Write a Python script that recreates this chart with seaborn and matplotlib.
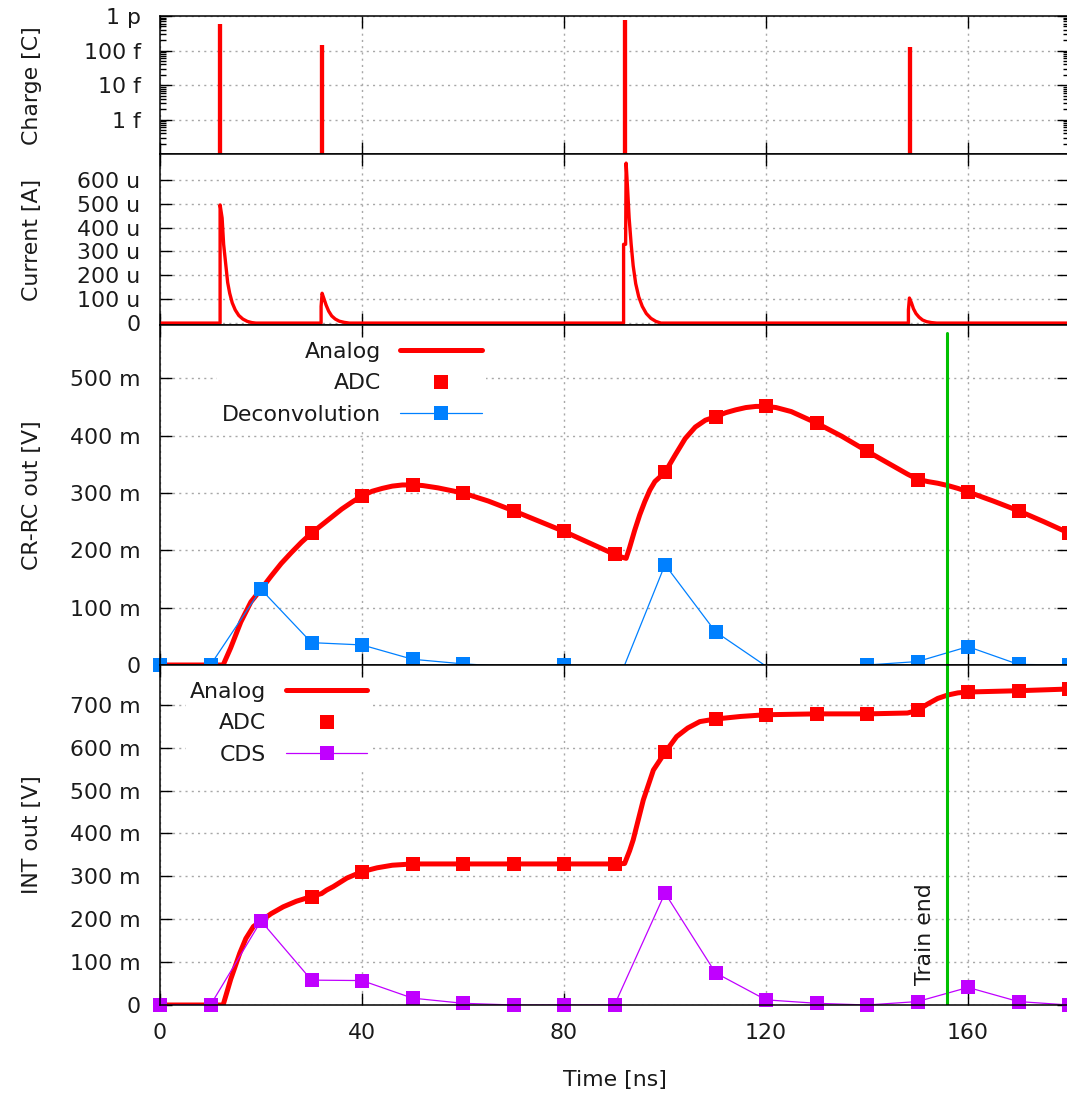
import numpy as np
import matplotlib
matplotlib.use("Agg")
import matplotlib.pyplot as plt
from matplotlib.lines import Line2D
from matplotlib.ticker import FixedLocator, FuncFormatter, NullFormatter
import seaborn as sns

# ---------------- data ----------------
# injected charge per pulse
charge_time = [11.9, 32.1, 92.1, 148.5]                 # ns
charge_value = [5.9e-13, 1.46e-13, 7.7e-13, 1.3e-13]     # C

# detector current (uA)
current_time = [0, 11.9, 11.9, 12.3, 12.6, 13.0, 13.4, 13.8, 14.3, 14.9, 15.6, 16.4, 17.3, 18.2, 19.0,
                31.9, 31.9, 32.1, 32.5, 32.9, 33.4, 34.0, 34.7, 35.5, 36.5, 37.5,
                91.8, 91.8, 92.2, 92.3, 92.6, 92.9, 93.3, 93.7, 94.2, 94.8, 95.5, 96.3, 97.2, 98.2, 99.2,
                148.2, 148.2, 148.4, 148.8, 149.2, 149.7, 150.3, 151.0, 151.8, 152.8, 153.8, 180]
current_ua = [0, 0, 495, 440, 330, 250, 170, 125, 85, 55, 32, 17, 7, 2, 0,
              0, 70, 125, 100, 75, 50, 30, 17, 8, 3, 0,
              0, 330, 330, 670, 560, 440, 330, 240, 165, 110, 70, 40, 20, 7, 0,
              0, 55, 105, 85, 60, 40, 25, 13, 6, 2, 0, 0]

# CR-RC shaper output, analog trace (mV)
crrc_time = [0, 12.5, 14, 16, 18, 20, 22, 24, 26, 28, 30, 32, 34, 36, 38, 40, 42, 44, 46, 48, 50, 52, 55,
             60, 65, 70, 75, 80, 85, 90, 91.5, 92.3, 93, 94, 95, 96, 97, 98, 100, 102, 104, 106, 108,
             110, 112, 114, 116, 118, 120, 122, 125, 130, 135, 140, 145, 148, 150, 152, 154, 156, 158,
             160, 165, 170, 175, 180]
crrc_mv = [0, 0, 30, 75, 110, 132, 155, 177, 196, 214, 230, 244, 258, 272, 284, 295, 303, 308, 312, 314, 314, 313, 309,
           300, 286, 269, 251, 233, 213, 193, 188, 186, 205, 235, 262, 285, 305, 320, 336, 366, 395, 415, 427,
           433, 440, 445, 449, 451, 451, 449, 442, 422, 399, 373, 348, 333, 324, 320, 317, 313, 308,
           302, 286, 269, 250, 230]

# integrator output, analog trace (mV)
int_time = [0, 12.5, 14, 15.8, 17, 18.5, 20, 22, 24.4, 27, 30, 32, 33, 34.3, 37, 40, 43, 46, 50, 60, 70, 80, 90,
            92, 93, 93.7, 95.7, 97.7, 100, 102.3, 104.5, 106.9, 110, 115, 120, 130, 140, 148, 150, 152, 154,
            156, 158, 160, 170, 180]
int_mv = [0, 0, 60, 121, 155, 183, 196, 213, 229, 242, 253, 260, 268, 276, 296, 311, 320, 326, 329, 329, 329, 329, 329,
          330, 360, 385, 478, 548, 589, 626, 646, 661, 667, 673, 677, 679, 679, 681, 687, 702, 715,
          723, 728, 730, 733, 737]

# ADC samples every 10 ns (mV)
sample_time = [0, 10, 20, 30, 40, 50, 60, 70, 80, 90, 100, 110, 120, 130, 140, 150, 160, 170, 180]
crrc_adc_mv = [0, 0, 132, 230, 295, 314, 300, 269, 233, 193, 336, 433, 451, 422, 373, 323, 302, 269, 230]
deconv_mv = [0, 0, 132, 39, 35, 10, 2, -3, 0, -44, 175, 58, -2, -12, 0, 6, 32, 1, 0]
int_adc_mv = [0, 0, 196, 253, 311, 329, 329, 329, 329, 329, 589, 667, 677, 679, 679, 687, 730, 733, 737]
cds_mv = [0, 0, 196, 58, 57, 16, 4, 0, 0, 0, 261, 75, 12, 4, 0, 8, 41, 8, 0]

train_end_ns = 155.8

# ---------------- style ----------------
sns.set_style("white")
plt.rcParams["font.family"] = ["DejaVu Sans"]
FS = 15.8
TXT = "#1a1a1a"
RED = "#ff0000"
BLUE = "#0080ff"
PURPLE = "#c000ff"
GREEN = "#00c000"
GRID = dict(color="#a8a8a8", linestyle=(0, (1.5, 3.0)), linewidth=1.0)
plt.rcParams.update({"text.color": TXT, "axes.labelcolor": TXT,
                     "xtick.color": "black", "ytick.color": "black",
                     "xtick.labelcolor": TXT, "ytick.labelcolor": TXT})

W, H = 1067, 1096
fig = plt.figure(figsize=(W / 100, H / 100), dpi=100)

left_px, right_px = 160, 1069


def panel(top_px, bottom_px):
    return fig.add_axes([left_px / W, 1 - bottom_px / H,
                         (right_px - left_px) / W, (bottom_px - top_px) / H])


ax_q = panel(16, 154.3)
ax_i = panel(154.3, 325)
ax_c = panel(325, 665)
ax_v = panel(665, 1005)
axes = [ax_q, ax_i, ax_c, ax_v]

for ax in axes:
    ax.set_xlim(0, 180)
    ax.xaxis.set_major_locator(FixedLocator([0, 40, 80, 120, 160]))
    ax.tick_params(axis="both", which="major", direction="in", left=True, bottom=True,
                   top=True, right=True, length=8.5, width=1.0, labelsize=FS)
    ax.tick_params(axis="y", which="major", pad=14)
    ax.tick_params(axis="x", which="major", pad=13)
    for s in ax.spines.values():
        s.set_linewidth(1.1)
        s.set_color("black")
        s.set_zorder(6)
    ax.grid(True, which="major", **GRID)
    ax.set_axisbelow(True)
    if ax is not ax_v:
        ax.tick_params(axis="x", labelbottom=False)
    ax.yaxis.set_label_coords(-0.13, 0.5)

# ---- charge panel (log scale impulses) ----
ax_q.set_yscale("log")
ax_q.set_ylim(1e-16, 1e-12)
ax_q.vlines(charge_time, 1e-16, charge_value, color=RED, linewidth=3.1, zorder=3)
decades = [1e-16, 1e-15, 1e-14, 1e-13, 1e-12]
ax_q.yaxis.set_major_locator(FixedLocator(decades))
q_names = {-15: "1 f", -14: "10 f", -13: "100 f", -12: "1 p"}
ax_q.yaxis.set_major_formatter(FuncFormatter(
    lambda v, p: q_names.get(int(round(np.log10(v))), "")))
ax_q.yaxis.set_minor_locator(FixedLocator([d * k for d in decades[:-1] for k in range(2, 10)]))
ax_q.yaxis.set_minor_formatter(NullFormatter())
ax_q.tick_params(axis="y", which="minor", direction="in", left=True, right=True,
                 length=4.5, width=1.0)
ax_q.set_ylabel("Charge [C]", fontsize=FS)

# ---- current panel ----
sns.lineplot(x=current_time, y=current_ua, ax=ax_i, color=RED, linewidth=2.4,
             estimator=None, sort=False, legend=False, zorder=3)
ax_i.set_ylim(-8, 707)
ax_i.yaxis.set_major_locator(FixedLocator([0, 100, 200, 300, 400, 500, 600]))
ax_i.yaxis.set_major_formatter(FuncFormatter(lambda v, p: "0" if abs(v) < 1e-9 else f"{v:.0f} u"))
ax_i.set_ylabel("Current [A]", fontsize=FS)

mv_fmt = FuncFormatter(lambda v, p: "0" if abs(v) < 1e-9 else f"{v:.0f} m")


def sampled(ax, values, color, z):
    # connecting line is clipped to the axes, markers only where the value is in range
    sns.lineplot(x=sample_time, y=values, ax=ax, color=color, linewidth=0.9,
                 estimator=None, sort=False, legend=False, zorder=z)
    t = [s for s, v in zip(sample_time, values) if v >= 0]
    v = [v for v in values if v >= 0]
    sns.scatterplot(x=t, y=v, ax=ax, color=color, marker="s", s=100, linewidth=0,
                    legend=False, zorder=z + 0.5)
    ax.collections[-1].set_clip_on(False)


def adc(ax, values):
    sns.scatterplot(x=sample_time, y=values, ax=ax, color=RED, marker="s", s=100,
                    linewidth=0, legend=False, zorder=4)
    ax.collections[-1].set_clip_on(False)


# ---- CR-RC panel ----
sns.lineplot(x=crrc_time, y=crrc_mv, ax=ax_c, color=RED, linewidth=3.6,
             estimator=None, sort=False, legend=False, zorder=3)
adc(ax_c, crrc_adc_mv)
sampled(ax_c, deconv_mv, BLUE, 5)
ax_c.set_ylim(0, 593)
ax_c.yaxis.set_major_locator(FixedLocator([0, 100, 200, 300, 400, 500]))
ax_c.yaxis.set_major_formatter(mv_fmt)
ax_c.set_ylabel("CR-RC out [V]", fontsize=FS)
ax_c.axvline(train_end_ns, ymin=0, ymax=579 / 593, color=GREEN, linewidth=2.2, zorder=5.8)

# ---- integrator panel ----
sns.lineplot(x=int_time, y=int_mv, ax=ax_v, color=RED, linewidth=3.6,
             estimator=None, sort=False, legend=False, zorder=3)
adc(ax_v, int_adc_mv)
sampled(ax_v, cds_mv, PURPLE, 5)
ax_v.set_ylim(0, 793)
ax_v.yaxis.set_major_locator(FixedLocator([0, 100, 200, 300, 400, 500, 600, 700]))
ax_v.yaxis.set_major_formatter(mv_fmt)
ax_v.set_ylabel("INT out [V]", fontsize=FS)
ax_v.axvline(train_end_ns, color=GREEN, linewidth=2.2, zorder=5.8)
ax_v.text(train_end_ns - 4.3, 47, "Train end", rotation=90, ha="center", va="bottom",
          fontsize=FS, color=TXT, zorder=7)
ax_v.set_xlabel("Time [ns]", fontsize=FS)
ax_v.xaxis.set_label_coords(0.5, -0.19)


def legend(ax, third_label, third_color, right_edge):
    handles = [
        Line2D([], [], color=RED, linewidth=3.6),
        Line2D([], [], color=RED, marker="s", markersize=10, linestyle="none", markeredgewidth=0),
        Line2D([], [], color=third_color, linewidth=0.9, marker="s", markersize=10, markeredgewidth=0),
    ]
    leg = ax.legend(handles, ["Analog", "ADC", third_label], loc="upper right",
                    bbox_to_anchor=(right_edge, 0.963), markerfirst=False, numpoints=1,
                    handlelength=3.7, handletextpad=0.9, labelspacing=0.52, borderpad=0.2,
                    borderaxespad=0.0, frameon=True, fancybox=False, framealpha=1.0,
                    facecolor="white", edgecolor="none", fontsize=FS)
    leg.set_zorder(8)


legend(ax_c, "Deconvolution", BLUE, 0.3586)
legend(ax_v, "CDS", PURPLE, 0.233)

fig.savefig("out.png", dpi=100)
